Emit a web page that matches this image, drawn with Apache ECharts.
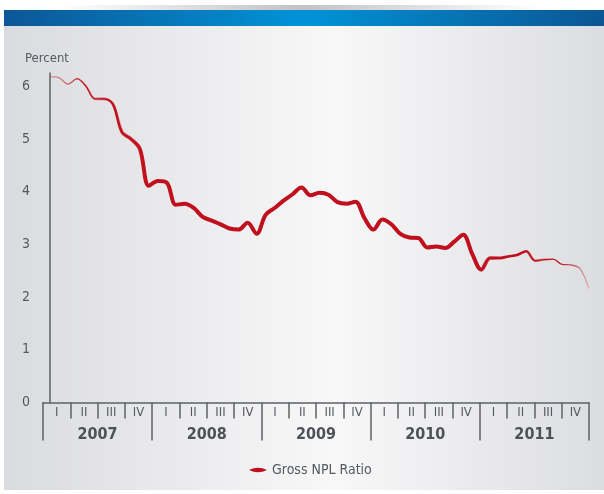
<!DOCTYPE html>
<html>
<head>
<meta charset="utf-8">
<script src="https://cdn.jsdelivr.net/npm/echarts@6/dist/echarts.min.js"></script>
<style>
  html, body { margin: 0; padding: 0; background: #fff; }
  #chart { width: 604px; height: 494px; }
</style>
</head>
<body>
<div id="chart"></div>
<script>
// Gross NPL ratio, monthly, Jan 2007 .. Dec 2011 (61 points incl. closing value), percent
const nplRatio = [
  6.18, 6.16, 6.04, 6.14, 6.00, 5.76, 5.76, 5.66, 5.13, 5.00, 4.81, 4.11,
  4.20, 4.17, 3.75, 3.77, 3.69, 3.52, 3.45, 3.38, 3.30, 3.28, 3.41, 3.20,
  3.56, 3.69, 3.83, 3.95, 4.08, 3.93, 3.98, 3.94, 3.80, 3.77, 3.81, 3.50,
  3.28, 3.47, 3.38, 3.20, 3.13, 3.12, 2.94, 2.96, 2.93, 3.05, 3.18, 2.82,
  2.52, 2.74, 2.74, 2.77, 2.80, 2.87, 2.69, 2.71, 2.72, 2.62, 2.61, 2.54,
  2.16
];
const years = ['2007', '2008', '2009', '2010', '2011'];
const quarterNames = ['I', 'II', 'III', 'IV'];
const quarters = years.flatMap(y => quarterNames.map(q => q + ' ' + y));
const yTicks = [0, 1, 2, 3, 4, 5, 6];
const seriesName = 'Gross NPL Ratio';

const FONT = "'Liberation Sans Narrow', 'DejaVu Sans Condensed', 'Open Sans', sans-serif";
const TEXT = '#555a60';
const AXIS = '#5e6166';
const RED = '192,16,30';

const points = nplRatio.map((v, i) => [i, v]);

// horizontal gradient helper: stops are [offset, alpha]
function fade(stops) {
  return {
    type: 'linear', x: 0, y: 0, x2: 1, y2: 0,
    colorStops: stops.map(([o, a]) => ({ offset: o, color: 'rgba(' + RED + ',' + a + ')' }))
  };
}

const chart = echarts.init(document.getElementById('chart'), null, { renderer: 'canvas' });

chart.setOption({
  animation: false,
  backgroundColor: '#ffffff',
  graphic: [
    // panel
    { type: 'rect', z: -10, silent: true, shape: { x: 4, y: 26, width: 600, height: 464 },
      style: { fill: { type: 'linear', x: 0, y: 0, x2: 1, y2: 0, colorStops: [
        { offset: 0, color: '#dadbde' }, { offset: 0.55, color: '#f8f8f9' }, { offset: 1, color: '#dcdde0' }] } } },
    // shadow above the banner
    { type: 'rect', z: -10, silent: true, shape: { x: 60, y: 5, width: 480, height: 5 },
      style: { fill: { type: 'linear', x: 0, y: 0, x2: 1, y2: 0, colorStops: [
        { offset: 0, color: 'rgba(120,120,120,0)' }, { offset: 0.5, color: 'rgba(120,120,120,0.45)' },
        { offset: 1, color: 'rgba(120,120,120,0)' }] } } },
    // blue banner
    { type: 'rect', z: -9, silent: true, shape: { x: 4, y: 10, width: 600, height: 16 },
      style: { fill: { type: 'linear', x: 0, y: 0, x2: 1, y2: 0, colorStops: [
        { offset: 0, color: '#0c5797' }, { offset: 0.5, color: '#0093d7' }, { offset: 1, color: '#0b5694' }] } } }
  ],
  title: {
    text: 'Percent', left: 20, top: 47,
    textStyle: { fontFamily: FONT, fontSize: 13, fontWeight: 'normal', color: TEXT }
  },
  legend: {
    data: [{ name: seriesName, itemStyle: { color: 'rgb(' + RED + ')' } }],
    left: 244, top: 458,
    icon: 'path://M0,5 Q10,0 20,5 Q10,10 0,5 Z',
    itemWidth: 18, itemHeight: 6, itemGap: 8,
    textStyle: { fontFamily: FONT, fontSize: 14, color: TEXT }
  },
  grid: { left: 43, right: 15, top: 73, bottom: 91.5 },
  xAxis: [
    { // quarters
      type: 'category', data: quarters, position: 'bottom', boundaryGap: true,
      axisLine: { show: true, lineStyle: { color: AXIS, width: 1.5 } },
      axisTick: { show: true, interval: 0, length: 16, lineStyle: { color: AXIS, width: 1.5 } },
      axisLabel: { interval: 0, margin: 4, formatter: v => v.split(' ')[0],
        fontFamily: FONT, fontSize: 13, color: TEXT }
    },
    { // years
      type: 'category', data: years, position: 'bottom', boundaryGap: true,
      axisLine: { show: false },
      axisTick: { show: true, interval: 0, length: 38, lineStyle: { color: AXIS, width: 1.5 } },
      axisLabel: { interval: 0, margin: 24, fontFamily: FONT, fontSize: 16,
        fontWeight: 'bold', color: '#4e5257' }
    },
    { // monthly positions for the series
      type: 'value', min: -0.78, max: 60, show: false
    }
  ],
  yAxis: {
    type: 'value', min: 0, max: 6.25, interval: 1,
    splitLine: { show: false },
    axisTick: { show: false },
    axisLine: { show: true, lineStyle: { color: AXIS, width: 1.5 } },
    axisLabel: {
      margin: 13, fontFamily: FONT, fontSize: 14, color: TEXT,
      formatter: v => (yTicks.includes(v) ? String(v) : '')
    }
  },
  series: [
    { // thin full-length stroke
      name: seriesName, type: 'line', xAxisIndex: 2, data: points,
      smooth: 0.35, symbol: 'none', z: 3,
      lineStyle: { width: 1.4, color: fade([[0, 0.25], [0.04, 0.6], [0.07, 1], [0.94, 1], [1, 0.15]]) }
    },
    { // medium weight
      name: 'npl-mid', type: 'line', xAxisIndex: 2, data: points,
      smooth: 0.35, symbol: 'none', z: 3,
      lineStyle: { width: 2.6, color: fade([[0, 0], [0.065, 0], [0.12, 1], [0.87, 1], [0.93, 0], [1, 0]]) }
    },
    { // heaviest weight in the middle years
      name: 'npl-thick', type: 'line', xAxisIndex: 2, data: points,
      smooth: 0.35, symbol: 'none', z: 3,
      lineStyle: { width: 4, color: fade([[0, 0], [0.12, 0], [0.18, 1], [0.79, 1], [0.845, 0], [1, 0]]) }
    }
  ]
});
</script>
</body>
</html>
